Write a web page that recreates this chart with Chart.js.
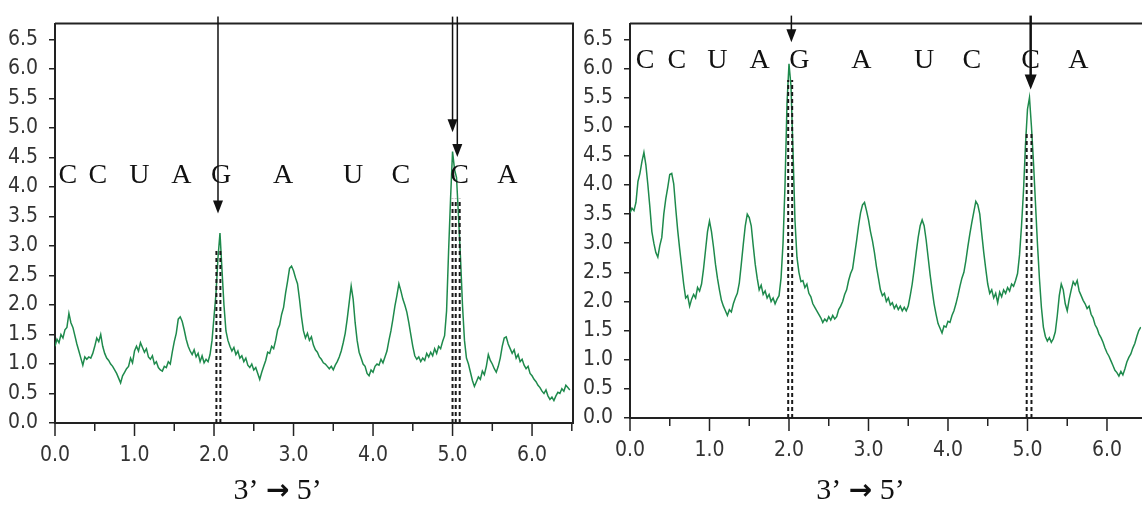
<!DOCTYPE html>
<html>
<head>
<meta charset="utf-8">
<script src="https://cdn.jsdelivr.net/npm/chart.js@4.4.1/dist/chart.umd.min.js"></script>
<style>
  html, body { margin: 0; background: #fff; overflow: hidden; }
  .panel { position: absolute; top: 0; height: 511px; }
</style>
</head>
<body>
<div class="panel" style="left:0;width:580px"><canvas id="leftChart"></canvas></div>
<div class="panel" style="left:580px;width:562px"><canvas id="rightChart"></canvas></div>
<script>
// --- data ---
const xStep = 0.025;   // trace sampled every 0.025 units along 3' -> 5'
const yTicks = [0, 0.5, 1, 1.5, 2, 2.5, 3, 3.5, 4, 4.5, 5, 5.5, 6, 6.5];
const xLabelTicks = [0, 1, 2, 3, 4, 5, 6];
const xMinorTicks = [0.5, 1.5, 2.5, 3.5, 4.5, 5.5, 6.5];
const bases = ['C', 'C', 'U', 'A', 'G', 'A', 'U', 'C', 'C', 'A'];
const leftBaseX = [0.16, 0.54, 1.06, 1.59, 2.09, 2.87, 3.75, 4.35, 5.09, 5.69];
const rightBaseX = [0.19, 0.59, 1.10, 1.63, 2.13, 2.91, 3.70, 4.30, 5.04, 5.64];
const leftBaseY = 4.19;
const rightBaseY = 6.14;

const leftTrace = [
  1.30, 1.42, 1.36, 1.50, 1.44, 1.58, 1.62, 1.86, 1.70, 1.62,
  1.48, 1.34, 1.22, 1.10, 0.98, 1.12, 1.08, 1.12, 1.10, 1.18,
  1.30, 1.44, 1.38, 1.50, 1.30, 1.18, 1.10, 1.06, 1.00, 0.96,
  0.90, 0.84, 0.76, 0.68, 0.80, 0.86, 0.92, 0.96, 1.10, 1.02,
  1.22, 1.30, 1.22, 1.36, 1.28, 1.20, 1.26, 1.12, 1.08, 1.14,
  1.00, 1.04, 0.94, 0.90, 0.88, 0.96, 0.94, 1.04, 1.00, 1.20,
  1.38, 1.52, 1.76, 1.80, 1.72, 1.58, 1.42, 1.30, 1.22, 1.16,
  1.24, 1.12, 1.18, 1.04, 1.14, 1.02, 1.08, 1.04, 1.16, 1.40,
  1.80, 2.20, 2.80, 3.22, 2.60, 2.00, 1.56, 1.40, 1.30, 1.22,
  1.28, 1.16, 1.22, 1.10, 1.14, 1.04, 1.10, 0.98, 0.94, 1.00,
  0.90, 0.94, 0.84, 0.74, 0.86, 0.96, 1.06, 1.20, 1.18, 1.30,
  1.26, 1.40, 1.58, 1.66, 1.84, 1.96, 2.20, 2.40, 2.62, 2.66,
  2.58, 2.46, 2.36, 2.10, 1.80, 1.56, 1.44, 1.52, 1.40, 1.46,
  1.32, 1.24, 1.20, 1.12, 1.08, 1.02, 1.00, 0.96, 0.92, 0.96,
  0.90, 0.98, 1.04, 1.12, 1.22, 1.36, 1.52, 1.76, 2.04, 2.32,
  2.10, 1.70, 1.40, 1.20, 1.10, 1.00, 0.96, 0.84, 0.80, 0.90,
  0.86, 0.96, 1.00, 0.98, 1.08, 1.02, 1.12, 1.22, 1.40, 1.56,
  1.76, 1.98, 2.16, 2.36, 2.24, 2.10, 2.00, 1.88, 1.70, 1.50,
  1.30, 1.14, 1.08, 1.12, 1.04, 1.10, 1.06, 1.18, 1.12, 1.20,
  1.14, 1.26, 1.18, 1.30, 1.26, 1.38, 1.48, 1.90, 2.90, 3.80,
  4.60, 4.30, 4.16, 3.50, 2.80, 2.00, 1.40, 1.10, 1.00, 0.86,
  0.72, 0.62, 0.70, 0.78, 0.74, 0.88, 0.82, 0.96, 1.16, 1.06,
  1.00, 0.92, 0.86, 0.96, 1.10, 1.30, 1.44, 1.46, 1.34, 1.26,
  1.18, 1.24, 1.10, 1.16, 1.04, 1.08, 0.98, 0.92, 0.96, 0.84,
  0.80, 0.74, 0.70, 0.64, 0.60, 0.54, 0.50, 0.56, 0.46, 0.40,
  0.44, 0.38, 0.46, 0.52, 0.50, 0.58, 0.54, 0.64, 0.60, 0.56
];

const rightTrace = [
  3.52, 3.60, 3.56, 3.70, 4.06, 4.20, 4.40, 4.56, 4.34, 4.00,
  3.62, 3.20, 3.00, 2.84, 2.76, 2.96, 3.10, 3.50, 3.76, 3.96,
  4.18, 4.20, 4.02, 3.60, 3.22, 2.90, 2.60, 2.30, 2.06, 2.10,
  1.92, 2.04, 2.12, 2.06, 2.24, 2.18, 2.30, 2.56, 2.88, 3.20,
  3.38, 3.20, 2.94, 2.64, 2.40, 2.20, 2.02, 1.92, 1.84, 1.76,
  1.86, 1.82, 1.96, 2.06, 2.14, 2.32, 2.64, 2.98, 3.30, 3.50,
  3.44, 3.30, 2.96, 2.64, 2.40, 2.20, 2.28, 2.12, 2.18, 2.06,
  2.12, 2.00, 2.06, 1.96, 2.04, 2.10, 2.40, 3.00, 4.00, 5.40,
  6.08, 5.70, 4.60, 3.40, 2.76, 2.50, 2.34, 2.36, 2.24, 2.30,
  2.14, 2.08, 1.96, 1.90, 1.84, 1.78, 1.72, 1.64, 1.70, 1.66,
  1.74, 1.68, 1.76, 1.70, 1.74, 1.86, 1.92, 2.00, 2.12, 2.20,
  2.36, 2.48, 2.56, 2.80, 3.04, 3.30, 3.52, 3.66, 3.70, 3.56,
  3.40, 3.20, 3.04, 2.84, 2.60, 2.40, 2.20, 2.10, 2.14, 2.00,
  2.06, 1.94, 1.98, 1.88, 1.94, 1.86, 1.92, 1.84, 1.90, 1.84,
  1.92, 2.10, 2.30, 2.56, 2.84, 3.10, 3.30, 3.40, 3.30, 3.06,
  2.76, 2.46, 2.20, 1.96, 1.78, 1.62, 1.54, 1.46, 1.58, 1.56,
  1.66, 1.64, 1.76, 1.84, 1.96, 2.10, 2.26, 2.40, 2.50, 2.70,
  2.94, 3.16, 3.36, 3.54, 3.72, 3.66, 3.50, 3.16, 2.84, 2.56,
  2.30, 2.14, 2.20, 2.06, 2.14, 1.98, 2.16, 2.08, 2.20, 2.14,
  2.24, 2.18, 2.30, 2.26, 2.36, 2.48, 2.80, 3.30, 3.90, 4.70,
  5.30, 5.50, 5.00, 4.40, 3.70, 3.00, 2.40, 1.90, 1.56, 1.40,
  1.32, 1.38, 1.30, 1.36, 1.48, 1.76, 2.10, 2.30, 2.20, 1.96,
  1.84, 2.04, 2.20, 2.34, 2.28, 2.36, 2.18, 2.10, 2.02, 1.96,
  1.88, 1.92, 1.78, 1.72, 1.60, 1.54, 1.44, 1.38, 1.30, 1.20,
  1.12, 1.06, 0.98, 0.90, 0.82, 0.78, 0.72, 0.80, 0.74, 0.84,
  0.96, 1.04, 1.10, 1.20, 1.28, 1.40, 1.50, 1.56
];

// arrows: x position, value at the arrow tip
const leftArrows = [{ x: 2.05, tip: 3.55 }, { x: 5.00, tip: 4.93 }, { x: 5.06, tip: 4.51 }];
const rightArrows = [{ x: 2.03, tip: 6.45 }, { x: 5.04, tip: 5.64 }];
// dashed drop lines: x positions and the value where they start
const leftDashes = [{ at: [2.03, 2.08], top: 2.96 }, { at: [5.00, 5.04, 5.09], top: 3.8 }];
const rightDashes = [{ at: [1.99, 2.04], top: 5.8 }, { at: [4.99, 5.05], top: 4.9 }];

const yMax = 6.77;
const tickFont = { family: "'Liberation Sans Narrow', 'DejaVu Sans Condensed', 'Arial Narrow', sans-serif", size: 21 };
const serif = "'Liberation Serif', 'DejaVu Serif', serif";

function makePanel(id, trace, cfg) {
  const pts = trace.map((v, i) => ({ x: +(i * xStep).toFixed(3), y: v }));

  const marks = {
    id: 'marks',
    afterDatasetsDraw(chart) {
      const { ctx, chartArea: a } = chart;
      const x = chart.scales.x, y = chart.scales.y;
      ctx.save();

      // dashed drop lines
      ctx.strokeStyle = '#1a1a1a';
      ctx.lineWidth = 2;
      ctx.setLineDash([4, 3]);
      cfg.dashes.forEach(d => d.at.forEach(v => {
        const px = x.getPixelForValue(v);
        ctx.beginPath();
        ctx.moveTo(px, y.getPixelForValue(0));
        ctx.lineTo(px, y.getPixelForValue(d.top));
        ctx.stroke();
      }));
      ctx.setLineDash([]);

      // frame: top (and right for the left panel)
      ctx.strokeStyle = '#222';
      ctx.lineWidth = 2;
      ctx.beginPath();
      ctx.moveTo(a.left, a.top);
      ctx.lineTo(cfg.closeRight ? a.right : chart.width, a.top);
      if (cfg.closeRight) ctx.lineTo(a.right, a.bottom);
      ctx.stroke();

      // x tick marks, major and minor
      ctx.lineWidth = 1.5;
      xLabelTicks.forEach(v => {
        const px = x.getPixelForValue(v);
        ctx.beginPath(); ctx.moveTo(px, a.bottom); ctx.lineTo(px, a.bottom + 13); ctx.stroke();
      });
      xMinorTicks.forEach(v => {
        if (v > x.max) return;
        const px = Math.min(x.getPixelForValue(v), a.right);
        ctx.beginPath(); ctx.moveTo(px, a.bottom + 1); ctx.lineTo(px, a.bottom + 8); ctx.stroke();
      });

      // base letters
      ctx.fillStyle = '#111';
      ctx.font = '28px ' + serif;
      ctx.textAlign = 'center';
      ctx.textBaseline = 'middle';
      bases.forEach((b, i) => {
        ctx.fillText(b, x.getPixelForValue(cfg.baseX[i]), y.getPixelForValue(cfg.baseY));
      });

      // arrows
      ctx.strokeStyle = '#111';
      ctx.fillStyle = '#111';
      cfg.arrows.forEach((ar, i) => {
        const px = x.getPixelForValue(ar.x);
        const tipY = y.getPixelForValue(ar.tip);
        const w = cfg.arrowW[i] || 1.5;
        const hl = 10 + w * 2, hw = 3.5 + w;
        ctx.lineWidth = w;
        ctx.beginPath();
        ctx.moveTo(px, a.top - cfg.rise);
        ctx.lineTo(px, tipY - hl + 2);
        ctx.stroke();
        ctx.beginPath();
        ctx.moveTo(px, tipY);
        ctx.lineTo(px - hw, tipY - hl);
        ctx.lineTo(px + hw, tipY - hl);
        ctx.closePath();
        ctx.fill();
      });

      // axis caption: 3' (bold arrow) 5'
      const cx = x.getPixelForValue(cfg.titleAt);
      const cy = 491;
      const fTxt = '30px ' + serif;
      const fArr = 'bold 28px "DejaVu Sans", sans-serif';
      ctx.textAlign = 'left';
      ctx.font = fTxt;
      const w1 = ctx.measureText('3\u2019 ').width;
      const w3 = ctx.measureText(' 5\u2019').width;
      ctx.font = fArr;
      const w2 = ctx.measureText('\u2192').width;
      let sx = cx - (w1 + w2 + w3) / 2;
      ctx.font = fTxt;
      ctx.fillText('3\u2019 ', sx, cy);
      ctx.font = fArr;
      ctx.fillText('\u2192', sx + w1, cy + 1);
      ctx.font = fTxt;
      ctx.fillText(' 5\u2019', sx + w1 + w2, cy);

      ctx.restore();
    }
  };

  return new Chart(document.getElementById(id), {
    type: 'line',
    data: {
      datasets: [{
        data: pts,
        borderColor: '#1e8a4c',
        borderWidth: 1.5,
        pointRadius: 0,
        tension: 0,
        fill: false
      }]
    },
    options: {
      responsive: true,
      maintainAspectRatio: false,
      animation: false,
      events: [],
      layout: { padding: cfg.pad },
      plugins: { legend: { display: false }, tooltip: { enabled: false } },
      scales: {
        x: {
          type: 'linear', min: 0, max: cfg.xMax,
          afterFit: s => { s.height = cfg.xAxisH; },
          afterBuildTicks: s => { s.ticks = xLabelTicks.map(v => ({ value: v })); },
          ticks: { font: tickFont, color: '#333', padding: 20, autoSkip: false, maxRotation: 0, callback: v => v.toFixed(1) },
          grid: { display: true, drawOnChartArea: false, drawTicks: false },
          border: { display: true, color: '#222', width: 2 }
        },
        y: {
          min: 0, max: yMax,
          afterFit: s => { s.width = cfg.yAxisW; },
          afterBuildTicks: s => { s.ticks = yTicks.map(v => ({ value: v })); },
          ticks: { font: tickFont, color: '#333', padding: 11, autoSkip: false, callback: v => v.toFixed(1) },
          grid: { drawOnChartArea: false, tickLength: 6, color: '#222', lineWidth: 1.5 },
          border: { display: true, color: '#222', width: 2 }
        }
      }
    },
    plugins: [marks]
  });
}

makePanel('leftChart', leftTrace, {
  pad: { top: 21, right: 7, left: 0, bottom: 0 },
  yAxisW: 55, xAxisH: 88, xMax: 6.515,
  closeRight: true, rise: 7, titleAt: 2.8,
  baseX: leftBaseX, baseY: leftBaseY,
  arrows: leftArrows, arrowW: [1.5, 1.5, 1.5], dashes: leftDashes
});

makePanel('rightChart', rightTrace, {
  pad: { top: 16, right: 0, left: 0, bottom: 0 },
  yAxisW: 50, xAxisH: 93, xMax: 6.43,
  closeRight: false, rise: 8, titleAt: 2.9,
  baseX: rightBaseX, baseY: rightBaseY,
  arrows: rightArrows, arrowW: [1.5, 2.5], dashes: rightDashes
});
</script>
</body>
</html>
